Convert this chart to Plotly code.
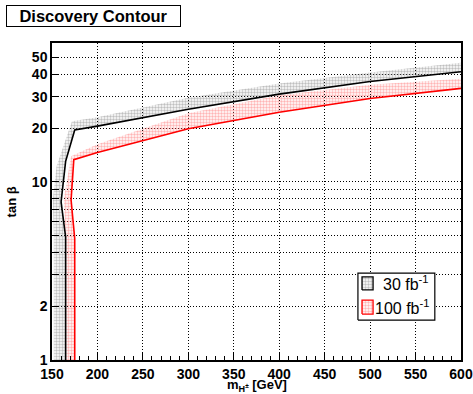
import plotly.graph_objects as go

# ---- data ----
black_x = [165, 165, 160, 165, 175, 200, 300, 400, 500, 600]
black_y = [1, 4.9, 7.7, 13.0, 19.5, 20.5, 25.5, 31.0, 36.5, 41.4]
black_band_x = [152, 152, 151, 155, 172, 200, 300, 400, 500, 600]
black_band_y = [1, 5.0, 8.0, 12.2, 21.8, 23.0, 29.6, 35.5, 41.0, 46.5]

red_x = [175, 175, 171, 174, 200, 300, 400, 500, 600]
red_y = [1, 4.8, 7.9, 13.3, 14.6, 19.8, 24.5, 29.3, 33.4]
red_band_x = [165, 165, 163, 171, 200, 300, 400, 500, 600]
red_band_y = [1, 5.0, 8.0, 13.9, 16.2, 24.2, 30.5, 35.0, 37.8]

y_tickvals = [1, 2, 3, 4, 5, 6, 7, 8, 9, 10, 20, 30, 40, 50]
y_ticktext = ["1", "2", "", "", "", "", "", "", "", "10", "20", "30", "40", "50"]
x_tickvals = [150, 200, 250, 300, 350, 400, 450, 500, 550, 600]

legend_names = ["30 fb<sup>-1</sup>", "100 fb<sup>-1</sup>"]

FONT = "Liberation Sans"
GRAY_PAT = dict(shape=".", fgcolor="#808080", bgcolor="rgba(255,255,255,0)", size=3, solidity=0.5)
RED_PAT = dict(shape=".", fgcolor="#ff6a6a", bgcolor="rgba(255,255,255,0)", size=3, solidity=0.5)

fig = go.Figure()

# bands (polygon = outer edge + reversed line)
fig.add_trace(go.Scatter(
    x=black_band_x + black_x[::-1], y=black_band_y + black_y[::-1],
    mode="lines", fill="toself", line=dict(width=0, color="rgba(0,0,0,0)"),
    fillcolor="rgba(255,255,255,0)", fillpattern=GRAY_PAT,
    showlegend=False, hoverinfo="skip"))
fig.add_trace(go.Scatter(
    x=red_band_x + red_x[::-1], y=red_band_y + red_y[::-1],
    mode="lines", fill="toself", line=dict(width=0, color="rgba(0,0,0,0)"),
    fillcolor="rgba(255,255,255,0)", fillpattern=RED_PAT,
    showlegend=False, hoverinfo="skip"))

# lines
fig.add_trace(go.Scatter(x=black_x, y=black_y, mode="lines",
                         line=dict(color="black", width=1.6), showlegend=False))
fig.add_trace(go.Scatter(x=red_x, y=red_y, mode="lines",
                         line=dict(color="red", width=1.6), showlegend=False))

# ---- manual legend (overlay axes in plot-fraction units) ----
leg_x0, leg_x1, leg_y0, leg_y1 = 0.748, 0.936, 0.126, 0.274
fig.add_trace(go.Scatter(
    x=[leg_x0, leg_x1, leg_x1, leg_x0, leg_x0], y=[leg_y0, leg_y0, leg_y1, leg_y1, leg_y0],
    xaxis="x2", yaxis="y2", mode="lines", fill="toself",
    line=dict(color="black", width=1.2), fillcolor="white",
    showlegend=False, hoverinfo="skip"))
sw_x0, sw_x1 = 0.758, 0.785
sw_rows = [(0.221, 0.262), (0.145, 0.189)]
for (y0, y1), lc, pat in zip(sw_rows, ["black", "red"], [GRAY_PAT, RED_PAT]):
    fig.add_trace(go.Scatter(
        x=[sw_x0, sw_x1, sw_x1, sw_x0, sw_x0], y=[y0, y0, y1, y1, y0],
        xaxis="x2", yaxis="y2", mode="lines", fill="toself",
        line=dict(color=lc, width=1.3), fillcolor="rgba(255,255,255,0)",
        fillpattern=pat, showlegend=False, hoverinfo="skip"))

annotations = [
    dict(text="<b>Discovery Contour</b>", xref="paper", yref="paper",
         x=-0.1125, y=1.12, xanchor="left", yanchor="top", showarrow=False,
         font=dict(family=FONT, size=16.5), bgcolor="white",
         bordercolor="black", borderwidth=1, borderpad=0,
         width=173, height=20, align="center", valign="middle"),
    dict(text="tan β", xref="paper", yref="paper", x=-0.098, y=0.5,
         xanchor="center", yanchor="middle", textangle=-90, showarrow=False,
         font=dict(family=FONT, size=13, weight="bold")),
    dict(text="m<sub>H<sup>±</sup></sub> [GeV]", xref="paper", yref="paper",
         x=0.5, y=-0.081, xanchor="center", yanchor="middle", showarrow=False,
         font=dict(family=FONT, size=13, weight="bold")),
]
for (y0, y1), name in zip(sw_rows, legend_names):
    annotations.append(dict(text=name, xref="paper", yref="paper",
                            x=0.927, y=(y0 + y1) / 2, xanchor="right", yanchor="middle",
                            showarrow=False, font=dict(family=FONT, size=16)))

fig.update_layout(
    width=473, height=394,
    margin=dict(l=52, r=12, t=43, b=34),
    paper_bgcolor="white", plot_bgcolor="white",
    font=dict(family=FONT, color="black"),
    showlegend=False,
    xaxis=dict(range=[150, 600], tickvals=x_tickvals, ticks="inside", ticklen=8,
               tickcolor="black", tickfont=dict(family=FONT, size=14, weight="bold"),
               showgrid=True, gridcolor="black", griddash="1px,2px", gridwidth=1,
               minor=dict(dtick=10, ticks="inside", ticklen=4, tickcolor="black", showgrid=False),
               showline=True, linecolor="black", linewidth=1.5, mirror=True,
               zeroline=False, automargin=False),
    yaxis=dict(type="log", range=[0, 1.778], tickvals=y_tickvals, ticktext=y_ticktext,
               ticks="inside", ticklen=7, tickcolor="black",
               tickfont=dict(family=FONT, size=14, weight="bold"),
               showgrid=True, gridcolor="black", griddash="1px,2px", gridwidth=1,
               showline=True, linecolor="black", linewidth=1.5, mirror=True,
               zeroline=False, automargin=False),
    xaxis2=dict(overlaying="x", range=[0, 1], visible=False, anchor="y2"),
    yaxis2=dict(overlaying="y", range=[0, 1], visible=False, anchor="x2"),
    annotations=annotations,
)

fig.write_html("out.html")
